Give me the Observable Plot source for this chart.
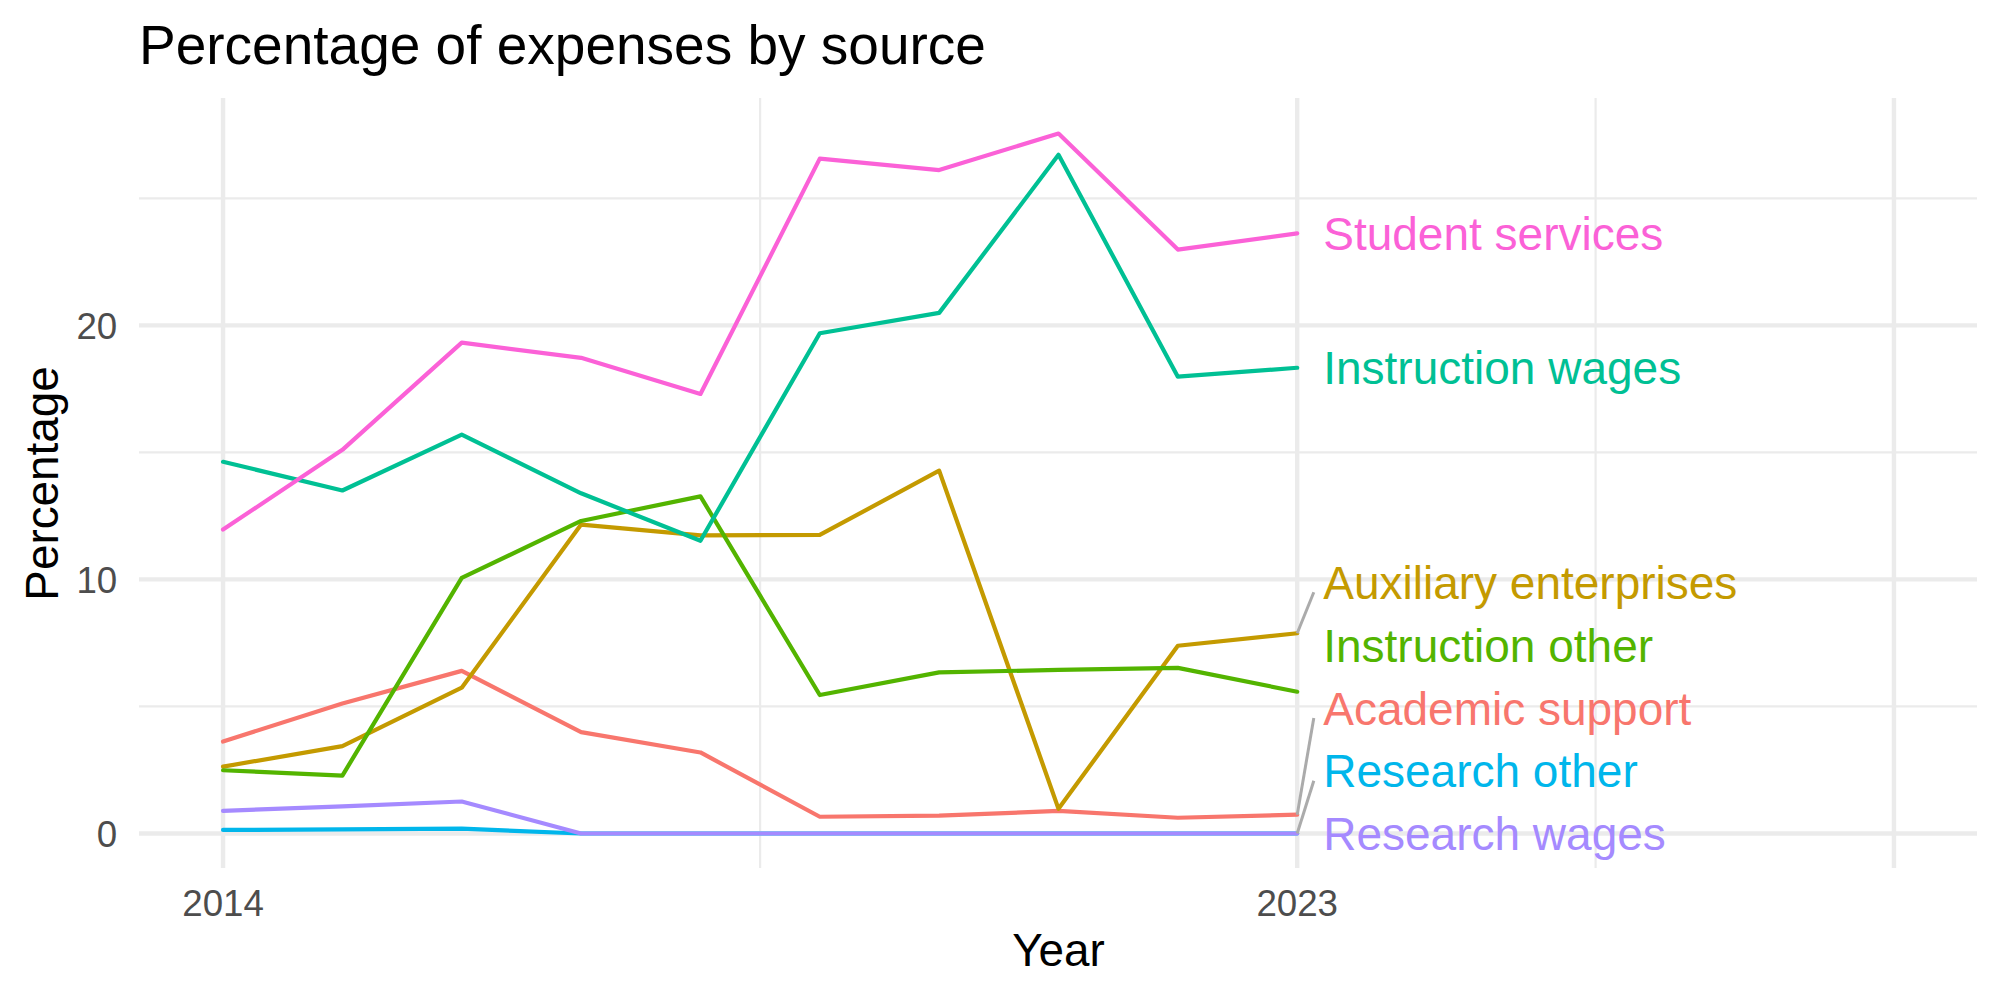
<!DOCTYPE html>
<html>
<head>
<meta charset="utf-8">
<script src="https://cdn.jsdelivr.net/npm/d3@7"></script>
<script src="https://cdn.jsdelivr.net/npm/@observablehq/plot@0.6"></script>
<style>
  html, body { margin: 0; padding: 0; background: #ffffff; }
</style>
</head>
<body>
<div id="chart"></div>
<script>
// Share of expenses (%) per source, fiscal years 2014-2023
const years = [2014, 2015, 2016, 2017, 2018, 2019, 2020, 2021, 2022, 2023];
const academicSupport      = [3.62, 5.12, 6.40, 3.99, 3.19, 0.66, 0.70, 0.89, 0.62, 0.74];
const auxiliaryEnterprises = [2.63, 3.44, 5.74, 12.16, 11.73, 11.75, 14.28, 0.97, 7.39, 7.88];
const instructionOther     = [2.49, 2.28, 10.06, 12.30, 13.27, 5.45, 6.34, 6.44, 6.52, 5.58];
const instructionWages     = [14.63, 13.50, 15.70, 13.39, 11.52, 19.69, 20.49, 26.71, 17.98, 18.33];
const researchOther        = [0.14, 0.16, 0.19, 0, 0, 0, 0, 0, 0, 0];
const researchWages        = [0.89, 1.07, 1.26, 0, 0, 0, 0, 0, 0, 0];
const studentServices      = [11.96, 15.10, 19.32, 18.72, 17.30, 26.56, 26.11, 27.55, 22.98, 23.62];

const sources = ["Academic support", "Auxiliary enterprises", "Instruction other",
                 "Instruction wages", "Research other", "Research wages", "Student services"];
const seriesValues = [academicSupport, auxiliaryEnterprises, instructionOther,
                      instructionWages, researchOther, researchWages, studentServices];

// Axis breaks
const xLimits = [2014, 2028];
const xMajor = [2014, 2023, 2028];
const xMinor = [2018.5, 2025.5];
const xTickLabels = [2014, 2023];
const yMajor = [0, 10, 20];
const yMinor = [5, 15, 25];

// Default discrete hue palette
const palette = ["#F8766D", "#C49A00", "#53B400", "#00C094", "#00B6EB", "#A58AFF", "#FB61D7"];

// Long-format table, one row per source and year
const rows = [];
sources.forEach((s, i) => {
  years.forEach((yr, j) => rows.push({source: s, year: yr, value: seriesValues[i][j]}));
});

// Scale limits with 5% expansion on both sides
const expand = ([a, b]) => [a - 0.05 * (b - a), b + 0.05 * (b - a)];
const xDomain = expand(xLimits);
const yDomain = expand([0, d3.max(rows, d => d.value)]);

// Layout
const W = 2000, H = 1000;
const M = {left: 139, right: 23, top: 98, bottom: 132};
const pxPerUnitY = (H - M.top - M.bottom) / (yDomain[1] - yDomain[0]);
const pxPerUnitX = (W - M.left - M.right) / (xDomain[1] - xDomain[0]);

const font = "'Liberation Sans', Arial, Helvetica, sans-serif";
const labelSize = 46;

// End-of-line labels, pushed apart so they do not overlap
const lastYear = d3.max(years);
const ends = sources.map((s, i) => ({source: s, value: seriesValues[i][years.length - 1]}));
const stacked = ends.slice().sort((a, b) => d3.ascending(a.value, b.value) || d3.descending(a.source, b.source));
const gap = 62.8 / pxPerUnitY;
let prev = -Infinity;
for (const d of stacked) {
  d.pos = Math.max(d.value, prev + gap);
  prev = d.pos;
}
const moved = ends.filter(d => d.pos - d.value > 1.9);
const labelNudge = 26 / pxPerUnitX;
const segNudge = 16.6 / pxPerUnitX;
const segInset = 10 / pxPerUnitY;

const chart = Plot.plot({
  width: W,
  height: H,
  marginLeft: M.left,
  marginRight: M.right,
  marginTop: M.top,
  marginBottom: M.bottom,
  x: {type: "linear", domain: xDomain, axis: null},
  y: {type: "linear", domain: yDomain, axis: null},
  color: {domain: sources, range: palette},
  style: {fontFamily: font, background: "#ffffff", overflow: "visible"},
  marks: [
    // grid
    Plot.ruleY(yMinor, {stroke: "#EBEBEB", strokeWidth: 2.2}),
    Plot.ruleX(xMinor, {stroke: "#EBEBEB", strokeWidth: 2.2}),
    Plot.ruleY(yMajor, {stroke: "#EBEBEB", strokeWidth: 4.4}),
    Plot.ruleX(xMajor, {stroke: "#EBEBEB", strokeWidth: 4.4}),
    // series
    Plot.line(rows, {x: "year", y: "value", z: "source", stroke: "source", strokeWidth: 4.2, strokeLinejoin: "round"}),
    // leader lines for displaced labels
    Plot.link(moved, {
      x1: () => lastYear, y1: "value",
      x2: () => lastYear + segNudge, y2: d => d.pos - segInset,
      stroke: "#ABABAB", strokeWidth: 3
    }),
    // series labels
    Plot.text(ends, {
      x: () => lastYear + labelNudge, y: "pos", dy: 2,
      text: "source", fill: "source", textAnchor: "start", lineAnchor: "middle",
      fontSize: labelSize
    }),
    // tick labels
    Plot.text(xTickLabels, {
      x: d => d, text: d => String(d), frameAnchor: "bottom", dy: 47.3,
      lineAnchor: "bottom", textAnchor: "middle", fill: "#4D4D4D", fontSize: 36.7
    }),
    Plot.text(yMajor, {
      y: d => d, text: d => String(d), frameAnchor: "left", dx: -22.3, dy: 2,
      lineAnchor: "middle", textAnchor: "end", fill: "#4D4D4D", fontSize: 36.7
    }),
    // axis titles
    Plot.text(["Year"], {
      text: d => d, frameAnchor: "bottom", dy: 97, lineAnchor: "bottom",
      textAnchor: "middle", fill: "#000000", fontSize: 45.8
    }),
    Plot.text(["Percentage"], {
      text: d => d, frameAnchor: "left", dx: -82, rotate: -90, lineAnchor: "bottom",
      textAnchor: "middle", fill: "#000000", fontSize: 45.8
    }),
    // title
    Plot.text(["Percentage of expenses by source"], {
      text: d => d, frameAnchor: "top-left", dx: -0.5, dy: -34.5, lineAnchor: "bottom",
      textAnchor: "start", fill: "#000000", fontSize: 55
    })
  ]
});

document.getElementById("chart").appendChild(chart);
</script>
</body>
</html>
